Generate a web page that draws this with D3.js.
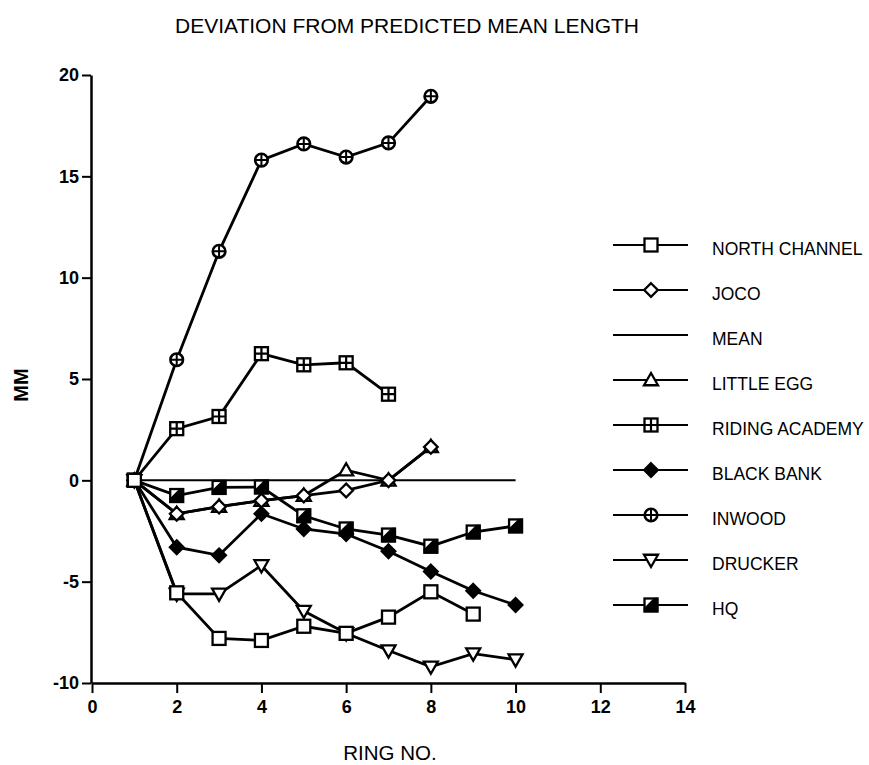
<!DOCTYPE html>
<html>
<head>
<meta charset="utf-8">
<script src="https://cdn.jsdelivr.net/npm/d3@7"></script>
<style>
  body { margin: 0; background: #fff; }
  text { font-family: "Liberation Sans", Arial, sans-serif; fill: #000; }
</style>
</head>
<body>
<div id="chart"></div>
<script>
// Ring numbers (x) and deviation in MM per site
const rings = [1, 2, 3, 4, 5, 6, 7, 8, 9, 10];
const northChannel = [0, -5.55, -7.8, -7.9, -7.2, -7.55, -6.75, -5.5, -6.6];
const joco = [0, -1.65, -1.3, -1.0, -0.75, -0.5, 0, 1.65];
const mean = [0, 0, 0, 0, 0, 0, 0, 0, 0, 0];
const littleEgg = [0, -1.65, -1.3, -1.0, -0.75, 0.5, 0, 1.65];
const ridingAcademy = [0, 2.55, 3.15, 6.25, 5.7, 5.8, 4.25];
const blackBank = [0, -3.3, -3.7, -1.65, -2.4, -2.65, -3.5, -4.5, -5.45, -6.15];
const inwood = [0, 5.95, 11.3, 15.8, 16.6, 15.95, 16.65, 18.95];
const drucker = [0, -5.6, -5.6, -4.2, -6.45, -7.55, -8.4, -9.2, -8.55, -8.85];
const hq = [0, -0.75, -0.35, -0.33, -1.75, -2.4, -2.7, -3.25, -2.55, -2.25];

const xTicks = [0, 2, 4, 6, 8, 10, 12, 14];
const yTicks = [-10, -5, 0, 5, 10, 15, 20];

// legend order, drawing order is separate (north channel on top)
const series = [
    { name: "NORTH CHANNEL", values: northChannel, marker: "square" },
    { name: "JOCO", values: joco, marker: "diamond" },
    { name: "MEAN", values: mean, marker: "none" },
    { name: "LITTLE EGG", values: littleEgg, marker: "triangle" },
    { name: "RIDING ACADEMY", values: ridingAcademy, marker: "squareCross" },
    { name: "BLACK BANK", values: blackBank, marker: "diamondFilled" },
    { name: "INWOOD", values: inwood, marker: "circleCross" },
    { name: "DRUCKER", values: drucker, marker: "triangleDown" },
    { name: "HQ", values: hq, marker: "squareHalf" }
];
const drawOrder = ["MEAN", "INWOOD", "RIDING ACADEMY", "LITTLE EGG", "HQ", "BLACK BANK", "JOCO", "DRUCKER", "NORTH CHANNEL"];

const W = 869, H = 765;
const svg = d3.select("#chart").append("svg")
    .attr("width", W)
    .attr("height", H);

const x = d3.scaleLinear().domain([0, 14]).range([92, 685]);
const y = d3.scaleLinear().domain([-10, 20]).range([683, 75]);

// axes (plain hyphen for negatives, like the original)
const xAxis = svg.append("g")
    .attr("transform", `translate(0,${y(-10)})`)
    .call(d3.axisBottom(x).tickValues(xTicks).tickFormat(d => String(d))
        .tickSize(10).tickPadding(7).tickSizeOuter(0));
const yAxis = svg.append("g")
    .attr("transform", `translate(${x(0) - 1},0)`)
    .call(d3.axisLeft(y).tickValues(yTicks).tickFormat(d => String(d))
        .tickSize(9).tickPadding(3).tickSizeOuter(0));

[xAxis, yAxis].forEach(g => {
    g.attr("font-size", 18).attr("font-family", "'Liberation Sans', Arial, sans-serif");
    g.select(".domain").attr("stroke", "#000").attr("stroke-width", 2.5);
    g.selectAll(".tick line").attr("stroke", "#000").attr("stroke-width", 2);
    g.selectAll(".tick text")
        .style("font-size", "18px")
        .style("font-weight", "bold")
        .attr("fill", "#000");
});

// marker drawing
function drawMarker(g, type, cx, cy) {
    const s = 6.5;
    const m = g.append("g").attr("transform", `translate(${cx},${cy})`);
    const sw = 2.3;
    if (type === "square" || type === "squareCross" || type === "squareHalf") {
        m.append("rect")
            .attr("x", -s).attr("y", -s).attr("width", 2 * s).attr("height", 2 * s)
            .attr("fill", "#fff").attr("stroke", "#000").attr("stroke-width", sw);
        if (type === "squareCross") {
            m.append("path").attr("d", `M${-s},0H${s}M0,${-s}V${s}`)
                .attr("stroke", "#000").attr("stroke-width", 2.2);
        }
        if (type === "squareHalf") {
            m.append("path").attr("d", `M${s},${-s}L${s},${s}L${-s},${s}L${-s},${s - 3}L${s - 3},${-s}Z`)
                .attr("fill", "#000").attr("stroke", "#000").attr("stroke-width", 1.5);
        }
    } else if (type === "diamond" || type === "diamondFilled") {
        const d = 6.8;
        m.append("path").attr("d", `M0,${-d}L${d},0L0,${d}L${-d},0Z`)
            .attr("fill", type === "diamondFilled" ? "#000" : "#fff")
            .attr("stroke", "#000").attr("stroke-width", sw);
    } else if (type === "triangle" || type === "triangleDown") {
        const t = 7;
        const dir = type === "triangle" ? 1 : -1;
        m.append("path")
            .attr("d", `M0,${-t * dir}L${t},${t * 0.75 * dir}L${-t},${t * 0.75 * dir}Z`)
            .attr("fill", "#fff").attr("stroke", "#000").attr("stroke-width", sw);
    } else if (type === "circleCross") {
        const r = 6.3;
        m.append("circle").attr("r", r)
            .attr("fill", "#fff").attr("stroke", "#000").attr("stroke-width", 2.6);
        m.append("path").attr("d", `M${-r},0H${r}M0,${-r}V${r}`)
            .attr("stroke", "#000").attr("stroke-width", 2);
    }
}

const line = d3.line()
    .x((d, i) => x(rings[i]))
    .y(d => y(d));

const plot = svg.append("g");
drawOrder.forEach(name => {
    const s = series.find(d => d.name === name);
    plot.append("path")
        .datum(s.values)
        .attr("d", line)
        .attr("fill", "none")
        .attr("stroke", "#000")
        .attr("stroke-width", name === "MEAN" ? 2 : 2.8);
});
drawOrder.forEach(name => {
    const s = series.find(d => d.name === name);
    if (s.marker === "none") return;
    s.values.forEach((v, i) => drawMarker(plot, s.marker, x(rings[i]), y(v)));
});

// legend
const legend = svg.append("g");
series.forEach((s, i) => {
    const ly = 245 + i * 45;
    legend.append("line")
        .attr("x1", 613).attr("x2", 688).attr("y1", ly).attr("y2", ly)
        .attr("stroke", "#000").attr("stroke-width", 2);
    if (s.marker !== "none") drawMarker(legend, s.marker, 651, ly);
    legend.append("text")
        .attr("x", 712).attr("y", ly + 10)
        .style("font-size", "17.5px")
        .text(s.name);
});

// titles
svg.append("text")
    .attr("x", 407).attr("y", 33)
    .attr("text-anchor", "middle")
    .style("font-size", "21px")
    .text("DEVIATION FROM PREDICTED MEAN LENGTH");

svg.append("text")
    .attr("x", 390).attr("y", 760)
    .attr("text-anchor", "middle")
    .style("font-size", "20.5px")
    .text("RING NO.");

svg.append("text")
    .attr("transform", `translate(28,385)rotate(-90)`)
    .attr("text-anchor", "middle")
    .style("font-size", "20px")
    .style("font-weight", "bold")
    .text("MM");
</script>
</body>
</html>
